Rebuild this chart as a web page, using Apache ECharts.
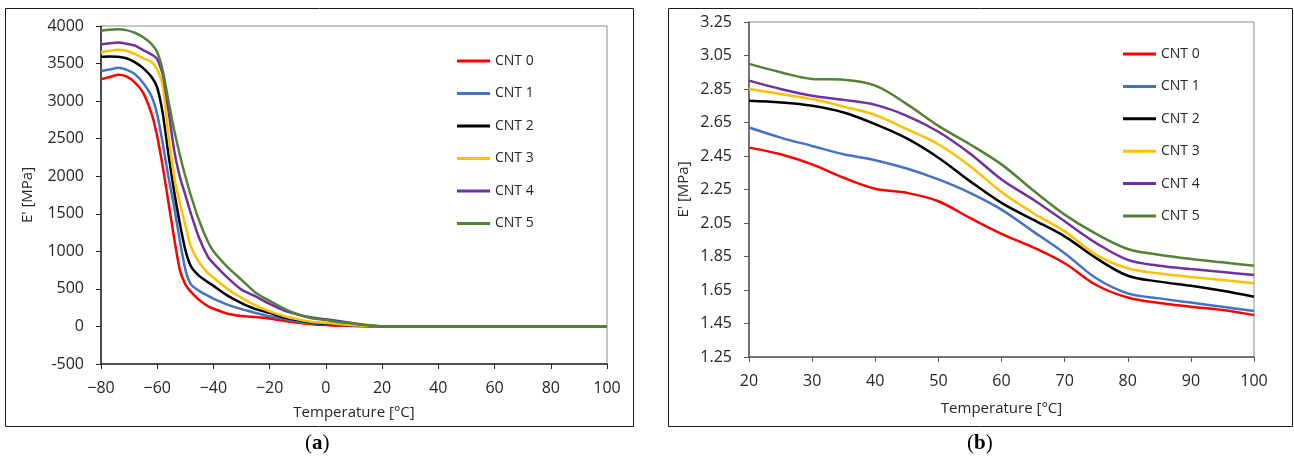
<!DOCTYPE html>
<html>
<head>
<meta charset="utf-8">
<script src="https://cdn.jsdelivr.net/npm/echarts@6/dist/echarts.min.js"></script>
<style>
  html, body { margin: 0; padding: 0; background: #fff; }
  #chart { width: 1294px; height: 461px; }
</style>
</head>
<body>
<div id="chart"></div>
<script>
// panel (a): full temperature sweep
const tempA = [-80, -77, -74, -71, -68, -65, -62, -60, -58, -56, -54, -52, -50, -48, -45, -42, -40, -35, -30, -25, -20, -15, -10, -5, 0, 5, 10, 15, 20, 30, 40, 50, 60, 70, 80, 90, 100]
const cnt0A = [3290, 3320, 3350, 3330, 3250, 3110, 2830, 2530, 2120, 1650, 1180, 760, 560, 460, 350, 270, 236, 170, 140, 125, 105, 75, 48, 30, 18, 10, 5, 2, 0, 0, 0, 0, 0, 0, 0, 0, 0]
const cnt1A = [3400, 3420, 3445, 3420, 3360, 3240, 3060, 2820, 2430, 1990, 1600, 1150, 760, 560, 470, 410, 370, 290, 230, 180, 135, 100, 62, 40, 30, 20, 10, 4, 0, 0, 0, 0, 0, 0, 0, 0, 0]
const cnt2A = [3590, 3595, 3590, 3570, 3520, 3440, 3320, 3180, 2830, 2290, 1800, 1380, 1020, 800, 670, 590, 540, 410, 310, 230, 180, 120, 85, 50, 35, 25, 15, 5, 0, 0, 0, 0, 0, 0, 0, 0, 0]
const cnt3A = [3650, 3670, 3685, 3670, 3630, 3570, 3520, 3420, 3200, 2550, 2000, 1650, 1350, 1060, 850, 710, 650, 500, 380, 280, 200, 140, 95, 60, 45, 30, 15, 5, 0, 0, 0, 0, 0, 0, 0, 0, 0]
const cnt4A = [3756, 3770, 3780, 3765, 3740, 3680, 3620, 3560, 3350, 2880, 2350, 2000, 1750, 1500, 1170, 930, 840, 650, 490, 400, 300, 215, 160, 120, 95, 70, 40, 15, 0, 0, 0, 0, 0, 0, 0, 0, 0]
const cnt5A = [3937, 3950, 3956, 3945, 3910, 3850, 3760, 3650, 3400, 3000, 2620, 2290, 2000, 1740, 1400, 1130, 1000, 790, 620, 450, 340, 240, 160, 110, 85, 55, 40, 18, 0, 0, 0, 0, 0, 0, 0, 0, 0]

// panel (b): 20-100 °C detail
const tempB = [20, 25, 30, 35, 40, 45, 50, 55, 60, 65, 70, 75, 80, 85, 90, 95, 100]
const cnt0B = [2.50, 2.46, 2.40, 2.32, 2.255, 2.23, 2.18, 2.08, 1.985, 1.905, 1.81, 1.68, 1.605, 1.572, 1.55, 1.53, 1.50]
const cnt1B = [2.62, 2.56, 2.51, 2.46, 2.425, 2.375, 2.31, 2.23, 2.13, 2.00, 1.87, 1.72, 1.63, 1.60, 1.575, 1.55, 1.525]
const cnt2B = [2.78, 2.77, 2.75, 2.71, 2.64, 2.555, 2.44, 2.30, 2.17, 2.07, 1.97, 1.84, 1.735, 1.70, 1.675, 1.645, 1.61]
const cnt3B = [2.85, 2.82, 2.79, 2.745, 2.695, 2.61, 2.52, 2.39, 2.235, 2.11, 2.00, 1.86, 1.78, 1.748, 1.728, 1.71, 1.69]
const cnt4B = [2.90, 2.85, 2.81, 2.785, 2.755, 2.69, 2.595, 2.465, 2.31, 2.19, 2.06, 1.93, 1.83, 1.795, 1.775, 1.757, 1.74]
const cnt5B = [3.00, 2.95, 2.91, 2.905, 2.87, 2.76, 2.63, 2.52, 2.40, 2.245, 2.10, 1.985, 1.895, 1.86, 1.835, 1.815, 1.795]

const names = ['CNT 0', 'CNT 1', 'CNT 2', 'CNT 3', 'CNT 4', 'CNT 5']
const colors = ['#ff0000', '#4472c4', '#000000', '#ffc000', '#7030a0', '#548235']
const yTicksB = [1.25, 1.45, 1.65, 1.85, 2.05, 2.25, 2.45, 2.65, 2.85, 3.05, 3.25]

const font = 'Open Sans'
const textColor = '#262626'

function pairs(xs, ys) {
  return xs.map((x, i) => [x, ys[i]])
}

let seriesA = [cnt0A, cnt1A, cnt2A, cnt3A, cnt4A, cnt5A]
let seriesB = [cnt0B, cnt1B, cnt2B, cnt3B, cnt4B, cnt5B]
let series = []
seriesA.forEach((ys, i) => {
  series.push({
    name: names[i], type: 'line', xAxisIndex: 0, yAxisIndex: 0,
    data: pairs(tempA, ys), symbol: 'none', smooth: 0.2,
    lineStyle: { color: colors[i], width: 2.5 }, itemStyle: { color: colors[i] },
    animation: false
  })
})
seriesB.forEach((ys, i) => {
  series.push({
    name: names[i], type: 'line', xAxisIndex: 1, yAxisIndex: 1,
    data: pairs(tempB, ys), symbol: 'none', smooth: 0.35,
    lineStyle: { color: colors[i], width: 2.5 }, itemStyle: { color: colors[i] },
    animation: false
  })
})

const axisText = { fontFamily: font, fontSize: 16, color: textColor }
const nameText = { fontFamily: font, fontSize: 15, color: textColor }

let chart = echarts.init(document.getElementById('chart'))
chart.setOption({
  animation: false,
  grid: [
    { left: 101, top: 26, width: 506, height: 338, show: true, borderColor: '#8c8c8c', borderWidth: 1 },
    { left: 749, top: 22, width: 505, height: 335, show: true, borderColor: '#8c8c8c', borderWidth: 1 }
  ],
  xAxis: [
    {
      gridIndex: 0, type: 'value', min: -80, max: 100, interval: 20,
      name: 'Temperature [°C]', nameLocation: 'middle', nameGap: 41,
      nameTextStyle: nameText,
      axisLine: { onZero: false, lineStyle: { color: '#262626', width: 1.5 } },
      axisTick: { show: true, length: 5, lineStyle: { color: '#262626' } },
      axisLabel: { ...axisText, margin: 16, formatter: v => v < 0 ? '\u2212' + (-v) : String(v) },
      splitLine: { show: false }
    },
    {
      gridIndex: 1, type: 'value', min: 20, max: 100, interval: 10,
      name: 'Temperature [°C]', nameLocation: 'middle', nameGap: 44,
      nameTextStyle: nameText,
      axisLine: { onZero: false, lineStyle: { color: '#595959', width: 1.5 } },
      axisTick: { show: true, length: 5, lineStyle: { color: '#595959' } },
      axisLabel: { ...axisText, margin: 16 },
      splitLine: { show: false }
    }
  ],
  yAxis: [
    {
      gridIndex: 0, type: 'value', min: -500, max: 4000, interval: 500,
      name: "E' [MPa]", nameLocation: 'middle', nameGap: 66, nameRotate: 90,
      nameTextStyle: nameText,
      axisLine: { show: true, onZero: false, lineStyle: { color: '#262626', width: 1.5 } },
      axisTick: { show: true, length: 5, lineStyle: { color: '#262626' } },
      axisLabel: { ...axisText, margin: 17, formatter: v => String(v) },
      splitLine: { show: false }
    },
    {
      gridIndex: 1, type: 'value', min: 1.25, max: 3.25,
      name: "E' [MPa]", nameLocation: 'middle', nameGap: 58, nameRotate: 90,
      nameTextStyle: nameText,
      axisLine: { show: true, onZero: false, lineStyle: { color: '#595959', width: 1.5 } },
      axisTick: { show: true, length: 5, customValues: yTicksB, lineStyle: { color: '#595959' } },
      axisLabel: { ...axisText, margin: 17, customValues: yTicksB, formatter: v => v.toFixed(2) },
      splitLine: { show: false }
    }
  ],
  legend: [
    {
      data: names, orient: 'vertical', left: 452, top: 49,
      icon: 'rect', itemWidth: 33, itemHeight: 3, itemGap: 18.5,
      textStyle: { fontFamily: font, fontSize: 14, color: textColor, lineHeight: 14 }
    },
    {
      data: names, orient: 'vertical', left: 1118, top: 42,
      icon: 'rect', itemWidth: 33, itemHeight: 3, itemGap: 18.4,
      textStyle: { fontFamily: font, fontSize: 14, color: textColor, lineHeight: 14 }
    }
  ],
  graphic: [
    { type: 'rect', shape: { x: 5.5, y: 8.5, width: 628, height: 418 }, style: { fill: 'none', stroke: '#1a1a1a', lineWidth: 1 }, silent: true },
    { type: 'rect', shape: { x: 668.5, y: 8.5, width: 624, height: 418 }, style: { fill: 'none', stroke: '#1a1a1a', lineWidth: 1 }, silent: true },
    {
      type: 'text', left: 305, top: 433,
      style: {
        text: '{p|(}{b|a}{p|)}',
        rich: {
          p: { fontFamily: 'Liberation Serif', fontSize: 21, fill: '#000' },
          b: { fontFamily: 'Liberation Serif', fontSize: 21, fontWeight: 'bold', fill: '#000' }
        }
      }
    },
    {
      type: 'text', left: 967, top: 433,
      style: {
        text: '{p|(}{b|b}{p|)}',
        rich: {
          p: { fontFamily: 'Liberation Serif', fontSize: 21, fill: '#000' },
          b: { fontFamily: 'Liberation Serif', fontSize: 21, fontWeight: 'bold', fill: '#000' }
        }
      }
    }
  ],
  series: series
})
</script>
</body>
</html>
